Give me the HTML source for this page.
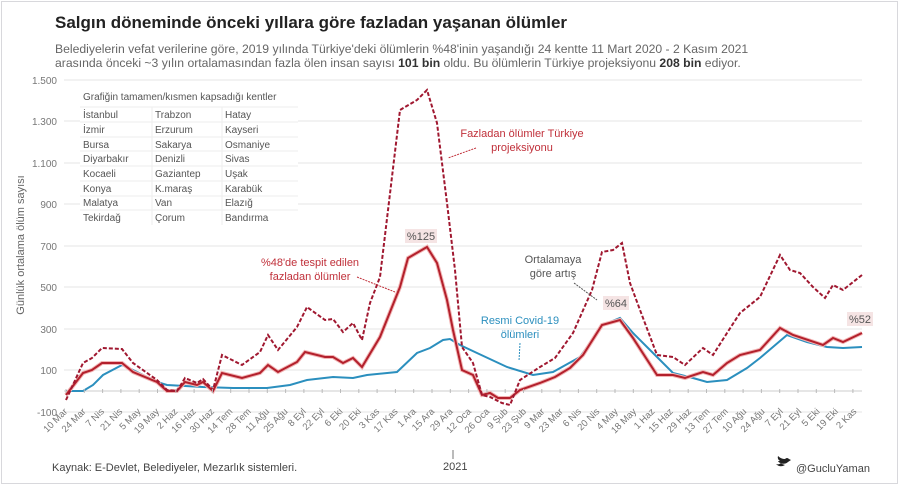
<!DOCTYPE html>
<html><head><meta charset="utf-8"><style>
body{margin:0;background:#fff;width:901px;height:486px;overflow:hidden;font-family:"Liberation Sans",sans-serif}
</style></head><body>
<svg width="901" height="486" xmlns="http://www.w3.org/2000/svg" font-family="Liberation Sans, sans-serif">
<rect x="1.5" y="1.5" width="896" height="482" fill="#fff" stroke="#d8d8dc"/>
<text x="55" y="28" font-size="17" font-weight="bold" fill="#222">Salgın döneminde önceki yıllara göre fazladan yaşanan ölümler</text>
<text x="55" y="53" font-size="12.2" fill="#666">Belediyelerin vefat verilerine göre, 2019 yılında Türkiye'deki ölümlerin %48'inin yaşandığı 24 kentte 11 Mart 2020 - 2 Kasım 2021</text>
<text x="55" y="67" font-size="12.2" fill="#666">arasında önceki ~3 yılın ortalamasından fazla ölen insan sayısı <tspan font-weight="bold" fill="#333">101 bin</tspan> oldu. Bu ölümlerin Türkiye projeksiyonu <tspan font-weight="bold" fill="#333">208 bin</tspan> ediyor.</text>
<g stroke="#e6e6e6" stroke-width="1">
<line x1="64" y1="80" x2="862" y2="80"/><line x1="64" y1="121" x2="862" y2="121"/><line x1="64" y1="163" x2="862" y2="163"/><line x1="64" y1="204" x2="862" y2="204"/><line x1="64" y1="246" x2="862" y2="246"/><line x1="64" y1="287" x2="862" y2="287"/><line x1="64" y1="329" x2="862" y2="329"/><line x1="64" y1="370" x2="862" y2="370"/><line x1="64" y1="412" x2="862" y2="412"/>
</g>
<line x1="64" y1="391" x2="862" y2="391" stroke="#ccc"/>
<g font-size="10" fill="#777" text-anchor="end">
<text x="57" y="84">1.500</text><text x="57" y="125">1.300</text><text x="57" y="167">1.100</text><text x="57" y="208">900</text><text x="57" y="250">700</text><text x="57" y="291">500</text><text x="57" y="333">300</text><text x="57" y="374">100</text><text x="57" y="416">-100</text>
</g>
<text transform="translate(24,245) rotate(-90)" font-size="11" fill="#666" text-anchor="middle">Günlük  ortalama ölüm sayısı</text>
<g font-size="10" fill="#555">
<rect x="80" y="87" width="218" height="138" fill="#fff"/>
<text x="83" y="100">Grafiğin tamamen/kısmen kapsadığı kentler</text>
<g stroke="#eee"><line x1="80" y1="107" x2="298" y2="107"/><line x1="80" y1="122" x2="298" y2="122"/><line x1="80" y1="137" x2="298" y2="137"/><line x1="80" y1="151" x2="298" y2="151"/><line x1="80" y1="166" x2="298" y2="166"/><line x1="80" y1="181" x2="298" y2="181"/><line x1="80" y1="196" x2="298" y2="196"/><line x1="80" y1="210" x2="298" y2="210"/><line x1="152" y1="107" x2="152" y2="225"/><line x1="222" y1="107" x2="222" y2="225"/></g>
<text x="83" y="118">İstanbul</text><text x="155" y="118">Trabzon</text><text x="225" y="118">Hatay</text>
<text x="83" y="133">İzmir</text><text x="155" y="133">Erzurum</text><text x="225" y="133">Kayseri</text>
<text x="83" y="148">Bursa</text><text x="155" y="148">Sakarya</text><text x="225" y="148">Osmaniye</text>
<text x="83" y="162">Diyarbakır</text><text x="155" y="162">Denizli</text><text x="225" y="162">Sivas</text>
<text x="83" y="177">Kocaeli</text><text x="155" y="177">Gaziantep</text><text x="225" y="177">Uşak</text>
<text x="83" y="192">Konya</text><text x="155" y="192">K.maraş</text><text x="225" y="192">Karabük</text>
<text x="83" y="206">Malatya</text><text x="155" y="206">Van</text><text x="225" y="206">Elazığ</text>
<text x="83" y="221">Tekirdağ</text><text x="155" y="221">Çorum</text><text x="225" y="221">Bandırma</text>
</g>
<polyline fill="none" stroke="#2b8fbe" stroke-width="2" points="66,391 83,391 93,385 103,375 122,365 133,370 157,382 167,385 185,386 203,387 233,388 267,388 290,385 307,380 333,377 353,378 367,375 397,372 417,353 430,348 443,340 450,339 460,345 477,353 507,367 533,375 553,372 580,357 603,325 620,318 633,333 647,347 673,373 693,378 707,382 727,380 747,368 760,358 787,335 807,342 827,347 843,348 862,347"/>
<polyline fill="none" stroke="#f2b5b5" stroke-width="4" points="66,395 83,373 92,370 102,363 122,363 133,372 157,382 167,391 177,391 185,382 197,385 203,382 213,391 222,373 242,378 260,373 268,365 278,372 297,362 305,352 325,357 333,357 343,363 353,358 362,367 380,337 400,287 408,258 427,247 437,263 447,300 453,330 462,370 473,375 482,395 490,393 498,398 510,398 520,390 540,383 555,377 570,368 583,355 602,325 620,320 633,338 657,375 673,375 685,378 703,372 713,375 727,363 740,355 760,350 780,328 793,335 823,345 833,338 843,342 862,333"/>
<polyline fill="none" stroke="#b3202c" stroke-width="2" points="66,395 83,373 92,370 102,363 122,363 133,372 157,382 167,391 177,391 185,382 197,385 203,382 213,391 222,373 242,378 260,373 268,365 278,372 297,362 305,352 325,357 333,357 343,363 353,358 362,367 380,337 400,287 408,258 427,247 437,263 447,300 453,330 462,370 473,375 482,395 490,393 498,398 510,398 520,390 540,383 555,377 570,368 583,355 602,325 620,320 633,338 657,375 673,375 685,378 703,372 713,375 727,363 740,355 760,350 780,328 793,335 823,345 833,338 843,342 862,333"/>
<polyline fill="none" stroke="#a01830" stroke-width="2" stroke-dasharray="4,2" points="66,400 83,363 92,358 102,348 122,349 133,363 157,380 167,390 177,391 185,378 197,383 203,379 213,390 222,355 242,365 260,352 268,335 278,350 297,327 307,307 325,320 333,319 343,332 353,323 362,340 370,303 380,277 400,110 417,100 427,90 437,123 447,203 455,270 462,347 473,363 482,395 490,397 502,403 510,405 520,380 540,367 555,358 573,333 592,290 602,252 613,250 622,243 630,283 640,310 657,355 673,357 685,365 703,348 713,355 727,333 740,313 760,297 780,255 790,270 800,273 813,287 825,298 833,285 843,290 862,275"/>
<g stroke="#bbb" id="ticks"></g>
<g font-size="9.5" fill="#777" text-anchor="end" id="xl"></g>
<rect x="405" y="229" width="32" height="14" fill="#f5e4e4"/>
<text x="421" y="240" font-size="11" fill="#555" text-anchor="middle">%125</text>
<text x="310" y="266" font-size="11" fill="#c0303a" text-anchor="middle">%48'de tespit edilen</text>
<text x="310" y="280" font-size="11" fill="#c0303a" text-anchor="middle">fazladan ölümler</text>
<line x1="357" y1="277" x2="395" y2="292" stroke="#c0303a" stroke-dasharray="2,1"/>
<text x="522" y="137" font-size="11" fill="#c0303a" text-anchor="middle">Fazladan ölümler Türkiye</text>
<text x="522" y="151" font-size="11" fill="#c0303a" text-anchor="middle">projeksiyonu</text>
<line x1="476" y1="148" x2="448" y2="158" stroke="#c0303a" stroke-dasharray="2,1"/>
<text x="553" y="263" font-size="11" fill="#555" text-anchor="middle">Ortalamaya</text>
<text x="553" y="277" font-size="11" fill="#555" text-anchor="middle">göre artış</text>
<line x1="574" y1="283" x2="597" y2="300" stroke="#555" stroke-dasharray="2,1"/>
<rect x="603" y="296" width="26" height="14" fill="#f5e4e4"/>
<text x="616" y="307" font-size="11" fill="#555" text-anchor="middle">%64</text>
<text x="520" y="324" font-size="11" fill="#2b8fbe" text-anchor="middle">Resmi Covid-19</text>
<text x="520" y="338" font-size="11" fill="#2b8fbe" text-anchor="middle">ölümleri</text>
<line x1="520" y1="343" x2="519" y2="361" stroke="#2b8fbe" stroke-dasharray="2,1"/>
<rect x="847" y="312" width="26" height="14" fill="#f5e4e4"/>
<text x="860" y="323" font-size="11" fill="#555" text-anchor="middle">%52</text>
<line x1="453" y1="450" x2="453" y2="459" stroke="#777"/>
<text x="443" y="470" font-size="11" fill="#444">2021</text>
<text x="52" y="471" font-size="11" fill="#444">Kaynak: E-Devlet, Belediyeler, Mezarlık sistemleri.</text>
<text x="796" y="472" font-size="11" fill="#444">@GucluYaman</text>
<path d="M779,463 q6,2 9,-1 l3,-2 -2,0 2,-1 -2,0 q-2,-2 -4,0 q-4,0 -7,-3 q-1,3 2,5 l-2,0 q1,2 3,2 q-2,2 -5,1 q4,4 9,1" fill="#222"/>
</svg>
<script>
var t=document.getElementById('ticks'),xl=document.getElementById('xl'),ns='http://www.w3.org/2000/svg';
for(var i=0;i<44;i++){var x=66+i*18.3;var l=document.createElementNS(ns,'line');l.setAttribute('x1',x);l.setAttribute('x2',x);l.setAttribute('y1',389);l.setAttribute('y2',393);t.appendChild(l);}
var labs=["10 Mar","24 Mar","7 Nis","21 Nis","5 May","19 May","2 Haz","16 Haz","30 Haz","14 Tem","28 Tem","11 Ağu","25 Ağu","8 Eyl","22 Eyl","6 Eki","20 Eki","3 Kas","17 Kas","1 Ara","15 Ara","29 Ara","12 Oca","26 Oca","9 Şub","23 Şub","9 Mar","23 Mar","6 Nis","20 Nis","4 May","18 May","1 Haz","15 Haz","29 Haz","13 Tem","27 Tem","10 Ağu","24 Ağu","7 Eyl","21 Eyl","5 Eki","19 Eki","2 Kas"];
for(var i=0;i<labs.length;i++){var x=68+i*18.35;var e=document.createElementNS(ns,'text');e.setAttribute('transform','translate('+x+',412) rotate(-45)');e.textContent=labs[i];xl.appendChild(e);}
</script>
</body></html>
